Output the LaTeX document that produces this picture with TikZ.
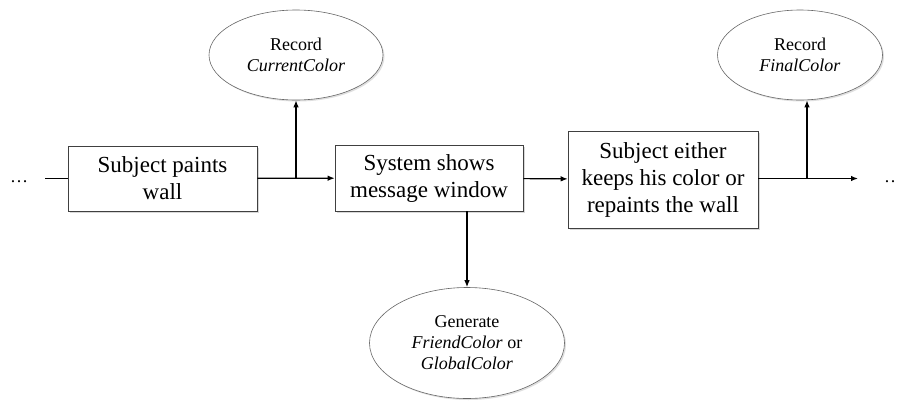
\documentclass[tikz,border=0pt]{standalone}
\usepackage{fontspec}
\setmainfont{Liberation Serif}
\usetikzlibrary{shapes,shadows,arrows.meta}

\begin{document}
\begin{tikzpicture}[ x=1pt, y=-1pt, >={Latex[length=7pt,width=5.5pt]},
        stepbox/.style={ draw=black!75, fill=white, line width=.6pt,
          align=center, inner sep=0pt, minimum width=189pt,
          font=\fontsize{23}{27}\selectfont,
          drop shadow={shadow xshift=2pt, shadow yshift=-2pt, fill=black!30} },
        record/.style={ ellipse, draw=black!60, fill=white, line width=.6pt,
          align=center, inner sep=0pt, font=\fontsize{18}{21}\selectfont,
          drop shadow={shadow xshift=1.5pt, shadow yshift=-1.5pt, fill=black!25} },
        flow/.style={ line width=1.2pt } ]
        \useasboundingbox (0,0) rectangle (897,402);

        \node[stepbox,minimum height=65pt] (paint) at (162.5,178.5)
          {Subject paints\\wall};
        \node[stepbox,minimum height=66pt,minimum width=188pt] (msg)
          at (429,178) {System shows\\message window};
        \node[stepbox,minimum height=97pt,minimum width=190pt] (keep)
          at (663,179.5) {Subject either\\keeps his color or\\repaints the wall};

        \node[record,minimum width=174pt,minimum height=90pt] (cur)
          at (296,55) {Record\\\textit{CurrentColor}};
        \node[record,minimum width=165pt,minimum height=90pt] (fin)
          at (800,55) {Record\\\textit{FinalColor}};
        \node[record,minimum width=195pt,minimum height=111pt] (gen)
          at (467,343) {Generate\\\textit{FriendColor} or\\\textit{GlobalColor}};

        \node[font=\fontsize{18}{21}\selectfont,anchor=base] (dl) at (19,182) {\dots};
        \node[font=\fontsize{18}{21}\selectfont,anchor=base west,inner sep=0pt]
          (dr) at (884,182) {\dots};

        \coordinate (in) at (45,178.5);
        \coordinate (out) at (858,178.5);
        \coordinate (j1) at (296,178.5);
        \coordinate (j2) at (807,178.5);

        \draw[flow] (in) -- (paint); \draw[flow,->] (paint) -- (msg);
        \draw[flow,->] (j1) -- (cur); \draw[flow,->] (msg) -- (keep);
        \draw[flow,->] (keep.east |- out) -- (out); \draw[flow,->] (j2)
        -- (j2 |- fin.south); \draw[flow,->] (msg.south -| gen)
        -- (gen);
      \end{tikzpicture}
\end{document}
